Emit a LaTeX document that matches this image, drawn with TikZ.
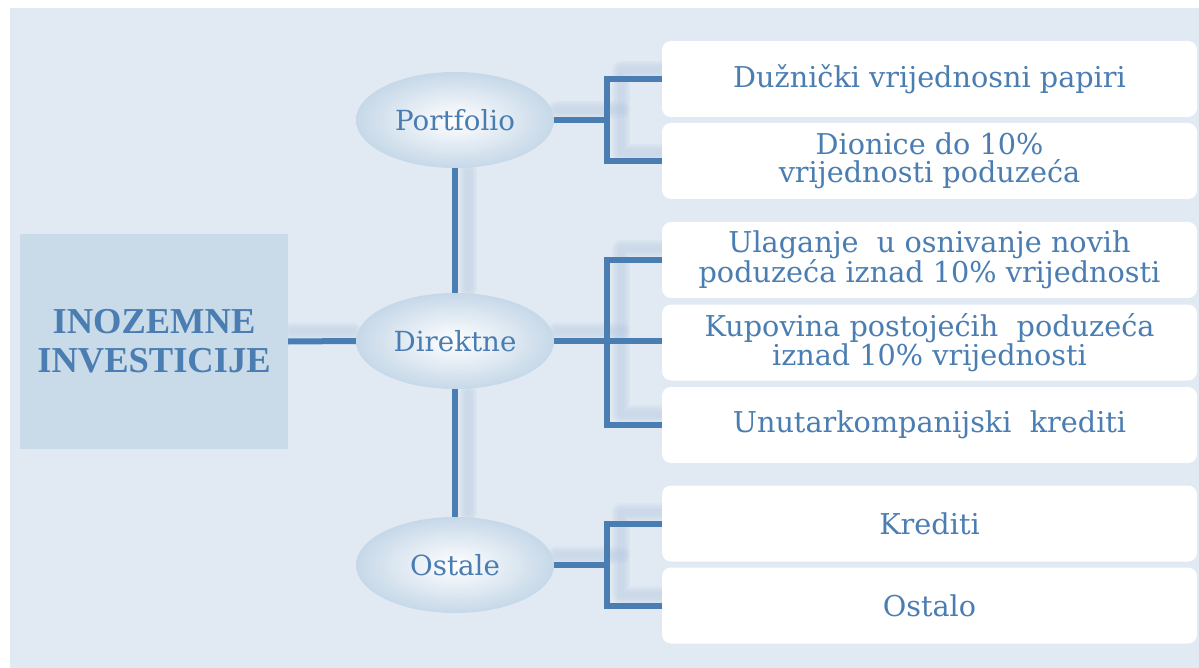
\documentclass[tikz,border=0pt]{standalone}
\usepackage{fontspec}
\setmainfont{DejaVu Serif}
\newfontfamily\titlefont{Liberation Serif}
\usetikzlibrary{shapes.geometric,backgrounds}
\definecolor{bgc}{HTML}{E1E9F3}
\definecolor{mainc}{HTML}{C9DAE8}
\definecolor{linec}{HTML}{4A7EB3}
\definecolor{txtc}{HTML}{4A7DB2}
\definecolor{glowc}{HTML}{B9CDE1}
\definecolor{ellc}{HTML}{C6D8E8}
\begin{document}
\begin{tikzpicture}[x=1pt,y=-1pt,
  mainbox/.style={rectangle,fill=mainc,minimum width=268pt,minimum height=215pt,inner sep=0pt,
    align=center,text=txtc,font=\titlefont\bfseries\fontsize{36.5}{39}\selectfont},
  oval/.style={ellipse,inner color=white,outer color=ellc,minimum width=198pt,minimum height=96pt,
    inner sep=0pt,text=txtc,font=\fontsize{27.7}{28}\selectfont},
  leaf/.style={rectangle,rounded corners=9pt,fill=white,minimum width=535pt,minimum height=76pt,
    inner sep=0pt,align=center,text=txtc,font=\fontsize{28.7}{28}\selectfont},
  conn/.style={draw=linec,line width=6pt,line join=miter},
  glowline/.style={draw=glowc,line width=#1,opacity=0.13,line join=round,line cap=round}]
\useasboundingbox (0,0) rectangle (1199,668);

\node[mainbox] (main) at (154,341.5) {INOZEMNE\\INVESTICIJE};

\node[oval] (port) at (455,120) {Portfolio};
\node[oval] (dir) at (455,341) {Direktne};
\node[oval] (ost) at (455,565) {Ostale};

\node[leaf] (b1) at (929.5,79) {Dužnički vrijednosni papiri};
\node[leaf] (b2) at (929.5,161) {Dionice do 10\%\\vrijednosti poduzeća};
\node[leaf] (b3) at (929.5,260) {Ulaganje\ \ u osnivanje novih\\poduzeća iznad 10\% vrijednosti};
\node[leaf] (b4) at (929.5,342.5) {Kupovina postojećih\ \ poduzeća\\iznad 10\% vrijednosti};
\node[leaf] (b5) at (929.5,425) {Unutarkompanijski\ \ krediti};
\node[leaf] (b6) at (929.5,523.5) {Krediti};
\node[leaf] (b7) at (929.5,605.5) {Ostalo};

\begin{pgfonlayer}{background}
  \fill[bgc] (10,8) rectangle (1199,668);
  \foreach \w in {18pt,15pt,12pt,9pt,6pt}{
    \draw[glowline=\w] (292,331) -- (352,331);
    \draw[glowline=\w] (468,172) -- (468,288);
    \draw[glowline=\w] (468,394) -- (468,512);
    \draw[glowline=\w] (557,110) -- (621,110);
    \draw[glowline=\w] (662,70) -- (621,70) -- (621,153) -- (662,153);
    \draw[glowline=\w] (557,331) -- (621,331);
    \draw[glowline=\w] (662,249) -- (621,249) -- (621,414) -- (662,414);
    \draw[glowline=\w] (557,555) -- (621,555);
    \draw[glowline=\w] (662,512) -- (621,512) -- (621,595) -- (662,595);
  }
\end{pgfonlayer}

\coordinate (fp) at (607,120);
\coordinate (fd) at (607,341);
\coordinate (fo) at (607,565);

\draw[conn] (main.east) -- (dir.west);
\draw[conn] (port.south) -- (dir.north);
\draw[conn] (dir.south) -- (ost.north);

\draw[conn] (port.east) -- (fp);
\draw[conn] (fp) |- (b1.west);
\draw[conn] (fp) |- (b2.west);

\draw[conn] (dir.east) -- (fd);
\draw[conn] (fd) |- (b3.west);
\draw[conn] (fd) -- (b4.west |- fd);
\draw[conn] (fd) |- (b5.west);

\draw[conn] (ost.east) -- (fo);
\draw[conn] (fo) |- (b6.west);
\draw[conn] (fo) |- (b7.west);
\end{tikzpicture}
\end{document}
